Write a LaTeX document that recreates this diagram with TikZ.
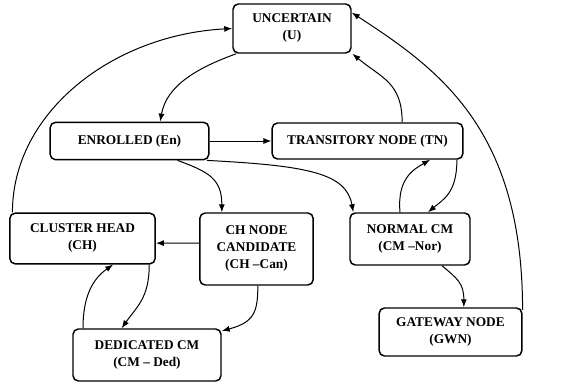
\documentclass[tikz,border=0pt]{standalone}
\usepackage{fontspec}
\setmainfont{Liberation Serif}
\usetikzlibrary{arrows.meta}

\begin{document}
\begin{tikzpicture}[x=0.75pt,y=-0.75pt,>={Latex[length=6pt,width=4.5pt]},
state/.style={draw,line width=1.1pt,rounded corners=4pt,align=center,inner sep=1pt,font=\fontsize{10}{12.75}\selectfont\bfseries},
link/.style={->,line width=0.75pt}]
\useasboundingbox (0,0) rectangle (564,382);
\path
node[state,minimum width=88.5pt,minimum height=36.75pt] (U) at (292,28.5) {UNCERTAIN\\(U)}
node[state,minimum width=119pt,minimum height=28pt] (En) at (129.5,141) {ENROLLED (En)}
node[state,minimum width=143pt,minimum height=27pt] (TN) at (367.5,141) {TRANSITORY NODE (TN)}
node[state,minimum width=109pt,minimum height=38pt] (CH) at (82.5,238.5) {CLUSTER HEAD\\(CH)}
node[state,minimum width=85pt,minimum height=54pt] (CHCan) at (256.5,249) {CH NODE\\CANDIDATE\\(CH –Can)}
node[state,minimum width=90pt,minimum height=39pt] (NCM) at (410,239) {NORMAL CM\\(CM –Nor)}
node[state,minimum width=107pt,minimum height=36pt] (GWN) at (450.5,332) {GATEWAY NODE\\(GWN)}
node[state,minimum width=111pt,minimum height=39pt] (Ded) at (147,355) {DEDICATED CM\\(CM – Ded)};
\draw[link] ([xshift=2.5pt]CH.north west) .. controls +(90:75pt) and +(183:90pt) .. (U.west);
\draw[link] ([xshift=3pt]U.south west) .. controls +(200:30pt) and +(80:28pt) .. ([xshift=23pt]En.north);
\draw[link] (En.east) -- (TN.west);
\draw[link] ([xshift=26pt]TN.north) .. controls +(90:30pt) and +(-40:28pt) .. ([xshift=0.5pt]U.south east);
\draw[link] ([yshift=-2pt]GWN.north east) .. controls +(90:135pt) and +(-33:79pt) .. ([yshift=-7pt]U.north east);
\draw[link] ([xshift=36pt]En.south) .. controls +(-20:25pt) and +(90:25pt) .. ([xshift=-26pt]CHCan.north);
\draw[link] ([xshift=-2pt]En.south east) .. controls +(-3:75pt) and +(100:30pt) .. ([xshift=3pt]NCM.north west);
\draw[link] ([xshift=-7.5pt]NCM.north) .. controls +(95:25pt) and +(-150:15pt) .. ([xshift=47pt]TN.south);
\draw[link] ([xshift=-5pt]TN.south east) .. controls +(-90:25pt) and +(40:15pt) .. ([xshift=13.5pt]NCM.north);
\draw[link] ([yshift=4.5pt]CHCan.west) -- ([yshift=-3.5pt]CH.east);
\draw[link] ([xshift=-5pt]CH.south east) .. controls +(-90:25pt) and +(55:20pt) .. ([xshift=-19pt]Ded.north);
\draw[link] ([xshift=-48pt]Ded.north) .. controls +(90:25pt) and +(-145:18pt) .. ([xshift=23pt]CH.south);
\draw[link] ([xshift=1pt]CHCan.south) .. controls +(-90:20pt) and +(15:25pt) .. ([yshift=-2pt]Ded.north east);
\draw[link] ([xshift=24pt]NCM.south) .. controls +(-40:15pt) and +(90:18pt) .. ([xshift=10pt]GWN.north);
\end{tikzpicture}
\end{document}
